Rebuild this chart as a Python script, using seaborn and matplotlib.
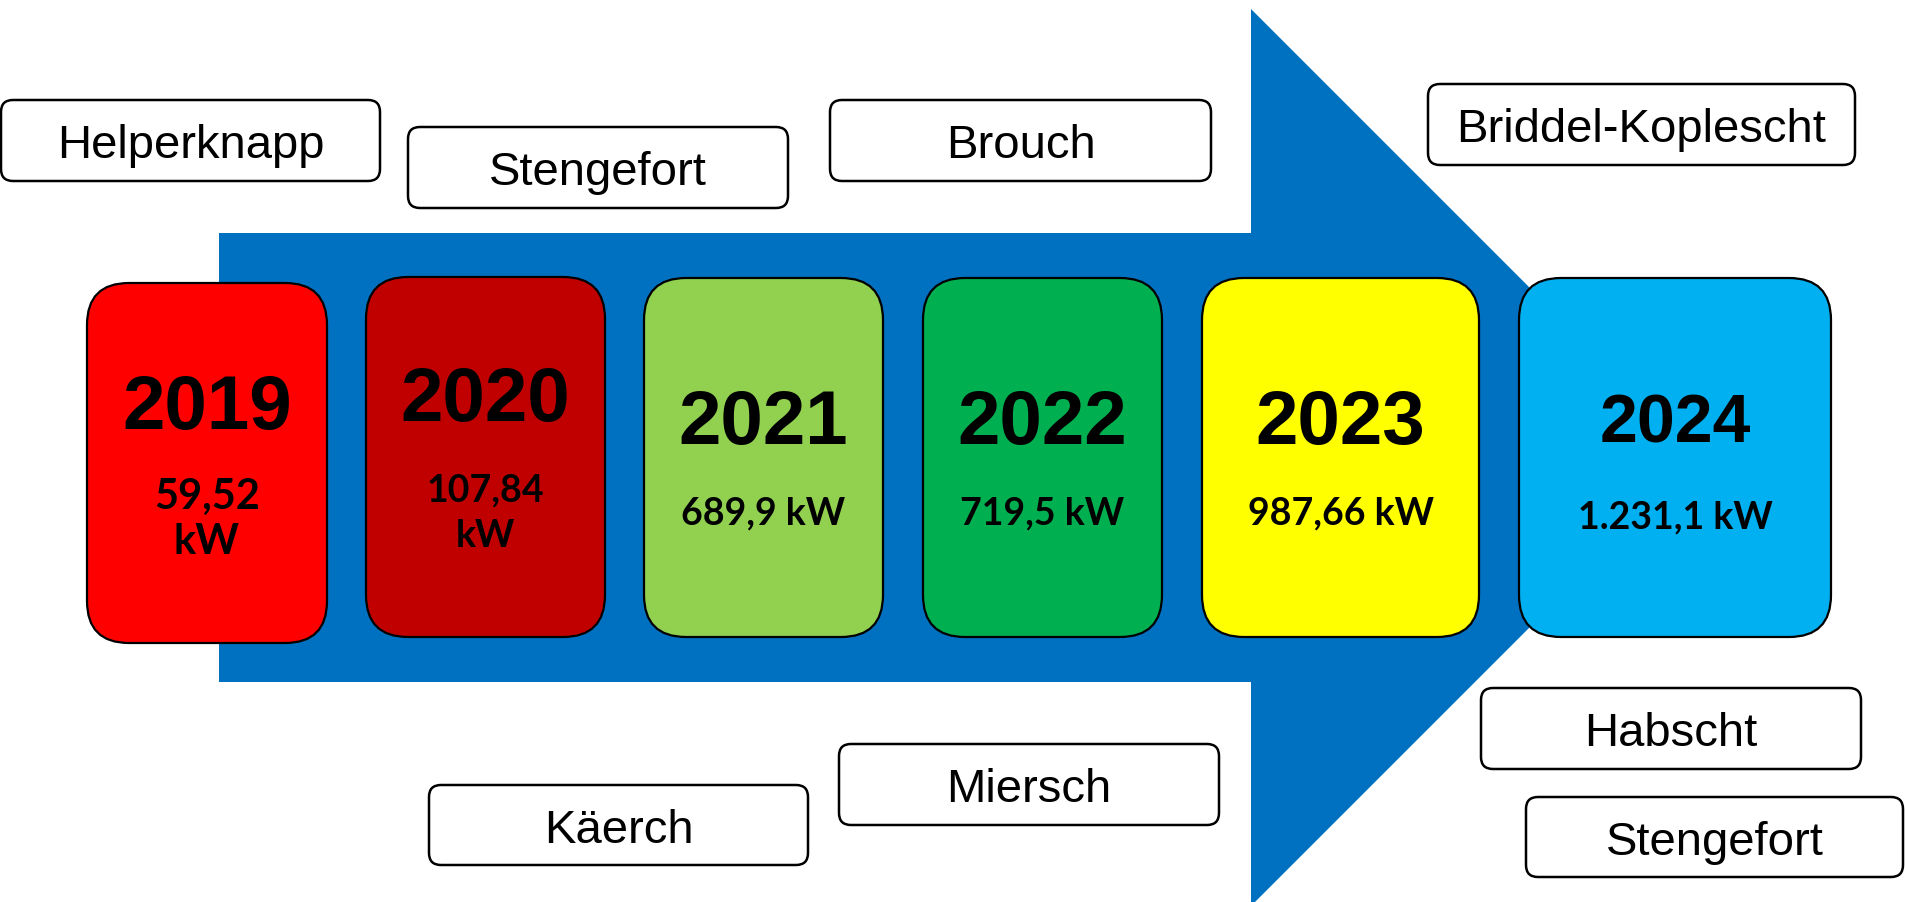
import matplotlib
matplotlib.use("Agg")
import matplotlib.pyplot as plt
from matplotlib.patches import FancyBboxPatch, Polygon
import seaborn as sns

# ---- data ----
years = [2019, 2020, 2021, 2022, 2023, 2024]
capacity_kw = [59.52, 107.84, 689.9, 719.5, 987.66, 1231.1]
year_colors = ["#FF0000", "#C00000", "#92D050", "#00B050", "#FFFF00", "#00B0F0"]
places_top = ["Helperknapp", "Stengefort", "Brouch", "Briddel-Koplescht"]
places_bottom = ["Käerch", "Miersch", "Habscht", "Stengefort"]

# ---- layout (pixels, y downward) ----
W, H = 1905, 903
year_boxes = [(87, 284, 327, 644), (366, 278, 605, 638), (644, 279, 883, 638),
              (923, 279, 1162, 638), (1202, 279, 1479, 638), (1519, 279, 1831, 638)]
year_y = [402, 394, 417, 417, 417, 418]
year_size = [55, 55, 55, 55, 55, 49]
value_y = [(494, 539), (488, 534), (511,), (511,), (511,), (515,)]
value_size = [30, 27, 27, 27, 27, 27]
top_boxes = [(1, 101, 380, 182), (408, 128, 788, 209), (830, 101, 1211, 182), (1428, 85, 1855, 166)]
bottom_boxes = [(429, 786, 808, 866), (839, 745, 1219, 826), (1481, 689, 1861, 770), (1526, 798, 1903, 878)]

sns.set_theme(style="white")
plt.rcParams["font.family"] = ["Liberation Sans", "DejaVu Sans"]

fig = plt.figure(figsize=(W / 100, H / 100), dpi=100)
ax = fig.add_axes([0, 0, 1, 1])
ax.set_xlim(0, W)
ax.set_ylim(H, 0)
ax.axis("off")

# arrow
body_top, body_bot = 234, 683
mid = (body_top + body_bot) / 2
head_x, head_top = 1251, 10
tip_x = head_x + (mid - head_top)
arrow = Polygon([(219, body_top), (head_x, body_top), (head_x, head_top), (tip_x, mid),
                 (head_x, 2 * mid - head_top), (head_x, body_bot), (219, body_bot)],
                closed=True, facecolor="#0070C0", edgecolor="none", zorder=1)
ax.add_patch(arrow)


def fmt_kw(v):
    s = f"{v:,}".replace(",", "#").replace(".", ",").replace("#", ".")
    return s


def baseline(yc, size):
    return yc + 0.716 * size * 100 / 72 / 2


for i, yr in enumerate(years):
    x0, y0, x1, y1 = year_boxes[i]
    box = FancyBboxPatch((x0, y0), x1 - x0, y1 - y0,
                         boxstyle="round,pad=0,rounding_size=42",
                         facecolor=year_colors[i], edgecolor="black", linewidth=1.6, zorder=2)
    ax.add_patch(box)
    cx = (x0 + x1) / 2
    ax.text(cx, baseline(year_y[i], year_size[i]), str(yr), ha="center", va="baseline",
            fontsize=year_size[i], fontweight="bold", color="black", zorder=3)
    label = fmt_kw(capacity_kw[i])
    lines = [label, "kW"] if len(value_y[i]) == 2 else [label + " kW"]
    for line, yc in zip(lines, value_y[i]):
        ax.text(cx, baseline(yc, value_size[i]), line, ha="center", va="baseline",
                fontsize=value_size[i], fontweight="bold", family=["Lato", "DejaVu Sans"],
                color="black", zorder=3)

for names, boxes in ((places_top, top_boxes), (places_bottom, bottom_boxes)):
    for name, (x0, y0, x1, y1) in zip(names, boxes):
        box = FancyBboxPatch((x0, y0), x1 - x0, y1 - y0,
                             boxstyle="round,pad=0,rounding_size=12",
                             facecolor="white", edgecolor="black", linewidth=1.8, zorder=2)
        ax.add_patch(box)
        ax.text((x0 + x1) / 2, baseline((y0 + y1) / 2, 34), name, ha="center", va="baseline",
                fontsize=34, color="black", zorder=3)

fig.savefig("out.png", dpi=100, facecolor="white")
